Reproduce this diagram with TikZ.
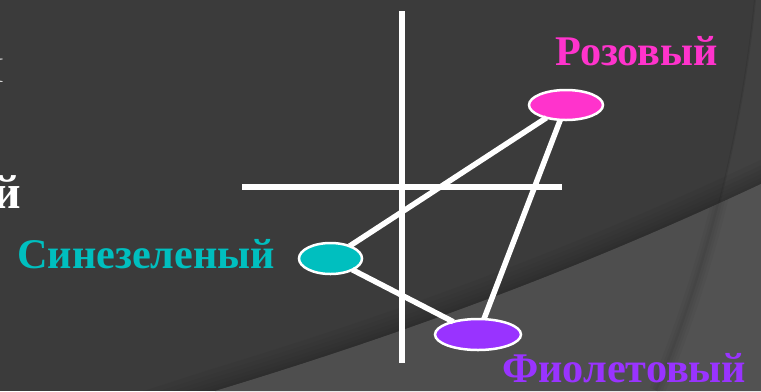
\documentclass[tikz,border=0pt]{standalone}
\usepackage{fontspec}
\setmainfont{Liberation Serif}
\usetikzlibrary{shapes.geometric}
\definecolor{bgdark}{HTML}{3B3B3B}
\definecolor{bglight}{HTML}{4E4E4E}
\definecolor{pinkc}{HTML}{FF33CC}
\definecolor{tealc}{HTML}{00BFBF}
\definecolor{purplec}{HTML}{9933FF}
\definecolor{grayletter}{HTML}{D4D4D4}
\tikzset{
  axisline/.style={draw=white, line width=6bp},
  conn/.style={draw=white, line width=5.5bp},
  blob/.style={ellipse, draw=white, line width=2.5bp, inner sep=0pt, outer sep=0pt},
  lbl/.style={inner sep=0pt, font=\fontsize{42.4}{48}\selectfont\bfseries},
}
\begin{document}
\begin{tikzpicture}[x=1bp,y=-1bp]
\useasboundingbox (0,0) rectangle (761,391);
\clip (0,0) rectangle (761,391);
% background
\fill[bgdark] (0,0) rectangle (761,391);
\fill[white, opacity=0.035] (755,0) .. controls (740,150) and (700,290) .. (657,391) -- (761,391) -- (761,0) -- cycle;
\draw[black, opacity=0.08, line width=2bp] (755,0) .. controls (740,150) and (700,290) .. (657,391);
% soft shadow above the lower band
\begin{scope}
\clip (0,0) -- (0,391) -- (215,391) .. controls (450,320) and (620,250) .. (761,184) -- (761,0) -- cycle;
\foreach \w in {44,34,26,18,11,5}{
  \draw[black, opacity=0.035, line width=\w bp] (150,412) -- (215,391) .. controls (450,320) and (620,250) .. (761,184) -- (800,166);
}
\end{scope}
\fill[bglight] (215,391) .. controls (450,320) and (620,250) .. (761,184) -- (761,391) -- cycle;
\begin{scope}
\clip (215,391) .. controls (450,320) and (620,250) .. (761,184) -- (761,391) -- cycle;
\fill[white, opacity=0.025] (755,0) .. controls (740,150) and (700,290) .. (657,391) -- (761,391) -- (761,0) -- cycle;
\foreach \w in {16,10,5}{
  \draw[black, opacity=0.03, line width=\w bp] (755,0) .. controls (740,150) and (700,290) .. (657,391);
}
\end{scope}
% partial letters at left edge
\node[anchor=base east, inner sep=0pt, text=grayletter, font=\fontsize{36}{40}\selectfont] (cutA) at (4,82) {И};
\node[anchor=base east, inner sep=0pt, text=white, font=\fontsize{48}{52}\selectfont\bfseries] (cutB) at (21,208) {й};
% axes
\coordinate (vtop) at (402,11);
\coordinate (vbot) at (402,363);
\coordinate (hleft) at (242,186.5);
\coordinate (hright) at (562,186.5);
\draw[axisline] (vtop) -- (vbot);
\draw[axisline] (hleft) -- (hright);
% nodes
\node[blob, fill=pinkc, minimum width=74bp, minimum height=30bp] (pink) at (566,105) {};
\node[blob, fill=tealc, minimum width=63bp, minimum height=31bp] (teal) at (330.5,258.5) {};
\node[blob, fill=purplec, minimum width=86bp, minimum height=31bp] (purple) at (478,334.5) {};
% connectors
\draw[conn] (pink) -- (teal);
\draw[conn] (pink) -- (purple);
\draw[conn] (teal) -- (purple);
% labels
\node[lbl, text=pinkc, anchor=base west] (lpink) at (555,65) {Розовый};
\node[lbl, text=tealc, anchor=base west] (lteal) at (17,268) {Синезеленый};
\node[lbl, text=purplec, anchor=base west] (lpurple) at (502,382) {Фиолетовый};
\end{tikzpicture}
\end{document}
